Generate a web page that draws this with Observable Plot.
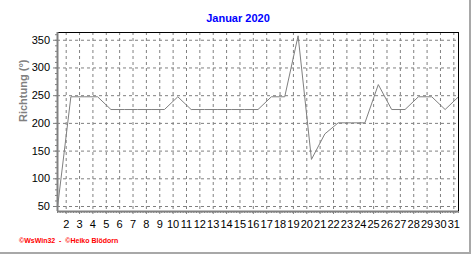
<!DOCTYPE html>
<html>
<head>
<meta charset="utf-8">
<script src="https://cdn.jsdelivr.net/npm/d3@7"></script>
<script src="https://cdn.jsdelivr.net/npm/@observablehq/plot@0.6"></script>
<style>
  body { margin: 0; background: #fff; }
  #wrap { position: relative; width: 472px; height: 255px; overflow: hidden; background: #fff; font-family: "Liberation Sans", Arial, sans-serif; }
  #chart { position: absolute; left: 0; top: 0; }
  #title { position: absolute; left: 0; width: 476px; top: 12px; text-align: center; color: #0000ff; font-weight: bold; font-size: 11px; line-height: 13px; }
  #foot { position: absolute; left: 19px; top: 236px; color: #ff0000; font-weight: bold; font-size: 7px; line-height: 9px; white-space: nowrap; }
  #bR { position: absolute; left: 469px; top: 0; width: 2px; height: 254px; background: #a8a8a8; }
  #bB { position: absolute; left: 0; top: 252px; width: 471px; height: 2px; background: #a8a8a8; }
</style>
</head>
<body>
<div id="wrap">
  <div id="chart"></div>
  <div id="title">Januar 2020</div>
  <div id="foot">©WsWin32 &nbsp;-&nbsp; ©Heiko Blödorn</div>
  <div id="bR"></div>
  <div id="bB"></div>
</div>
<script>
// Daily wind direction, January 2020
const days = [1,2,3,4,5,6,7,8,9,10,11,12,13,14,15,16,17,18,19,20,21,22,23,24,25,26,27,28,29,30,31];
const direction = [48,248,248,248,225,225,225,225,225,248,225,225,225,225,225,225,248,248,358,135,181,201,201,201,270,225,225,248,248,225,248];
const xTickLabels = ["2","3","4","5","6","7","8","9","10","11","12","13","14","15","16","17","18","19","20","21","22","23","24","25","26","27","28","29","30","31"];
const yTicks = [50,100,150,200,250,300,350];
const yDomain = [41, 364];
const xDomain = [1, 31];

const labelShift = 0.35; // label for day d sits at this offset before the day's point
const xTicks = xTickLabels.map(s => +s - labelShift);
const xMinor = d3.range(xDomain[0], xDomain[1] + 0.001, 0.2);
const yMinor = d3.range(50, 361, 10);
const data = days.map((d, i) => ({day: d, dir: direction[i]}));

const grid = "#808080";
const chart = Plot.plot({
  width: 472,
  height: 255,
  marginLeft: 57,
  marginRight: 14,
  marginTop: 32,
  marginBottom: 44,
  style: {fontFamily: "Liberation Sans, Arial, sans-serif", fontSize: "11px", background: "transparent", color: "#000"},
  x: {domain: xDomain, axis: null, label: null},
  y: {domain: yDomain, axis: null, label: null},
  marks: [
    Plot.ruleX(xTicks, {stroke: grid, strokeDasharray: "3,3"}),
    Plot.ruleY(yTicks, {stroke: grid, strokeDasharray: "3,3"}),
    Plot.axisX(xMinor, {tickSize: 2, stroke: grid, text: null, label: null}),
    Plot.axisX(xTicks, {tickSize: 3, tickPadding: 6, stroke: grid, fill: "#000", fontSize: 11, label: null,
      tickFormat: (d, i) => xTickLabels[i]}),
    Plot.axisY(yMinor, {tickSize: 2, stroke: grid, text: null, label: null}),
    Plot.axisY(yTicks, {tickSize: 4, tickPadding: 3.5, stroke: grid, fill: "#000", fontSize: 11, label: null}),
    Plot.line(data, {x: "day", y: "dir", stroke: "#808080", strokeWidth: 1}),
    Plot.ruleY([yDomain[1]], {stroke: "#000", strokeWidth: 1}),
    Plot.ruleX([xDomain[1]], {stroke: "#000", strokeWidth: 1}),
    Plot.ruleX([xDomain[0]], {stroke: "#808080", strokeWidth: 2}),
    Plot.ruleY([yDomain[0]], {stroke: "#808080", strokeWidth: 2}),
    Plot.text(["Richtung (°)"], {frameAnchor: "left", rotate: -90, dx: -34, fill: "#808080",
      fontWeight: "bold", fontSize: 11})
  ]
});
document.getElementById("chart").appendChild(chart);
</script>
</body>
</html>
